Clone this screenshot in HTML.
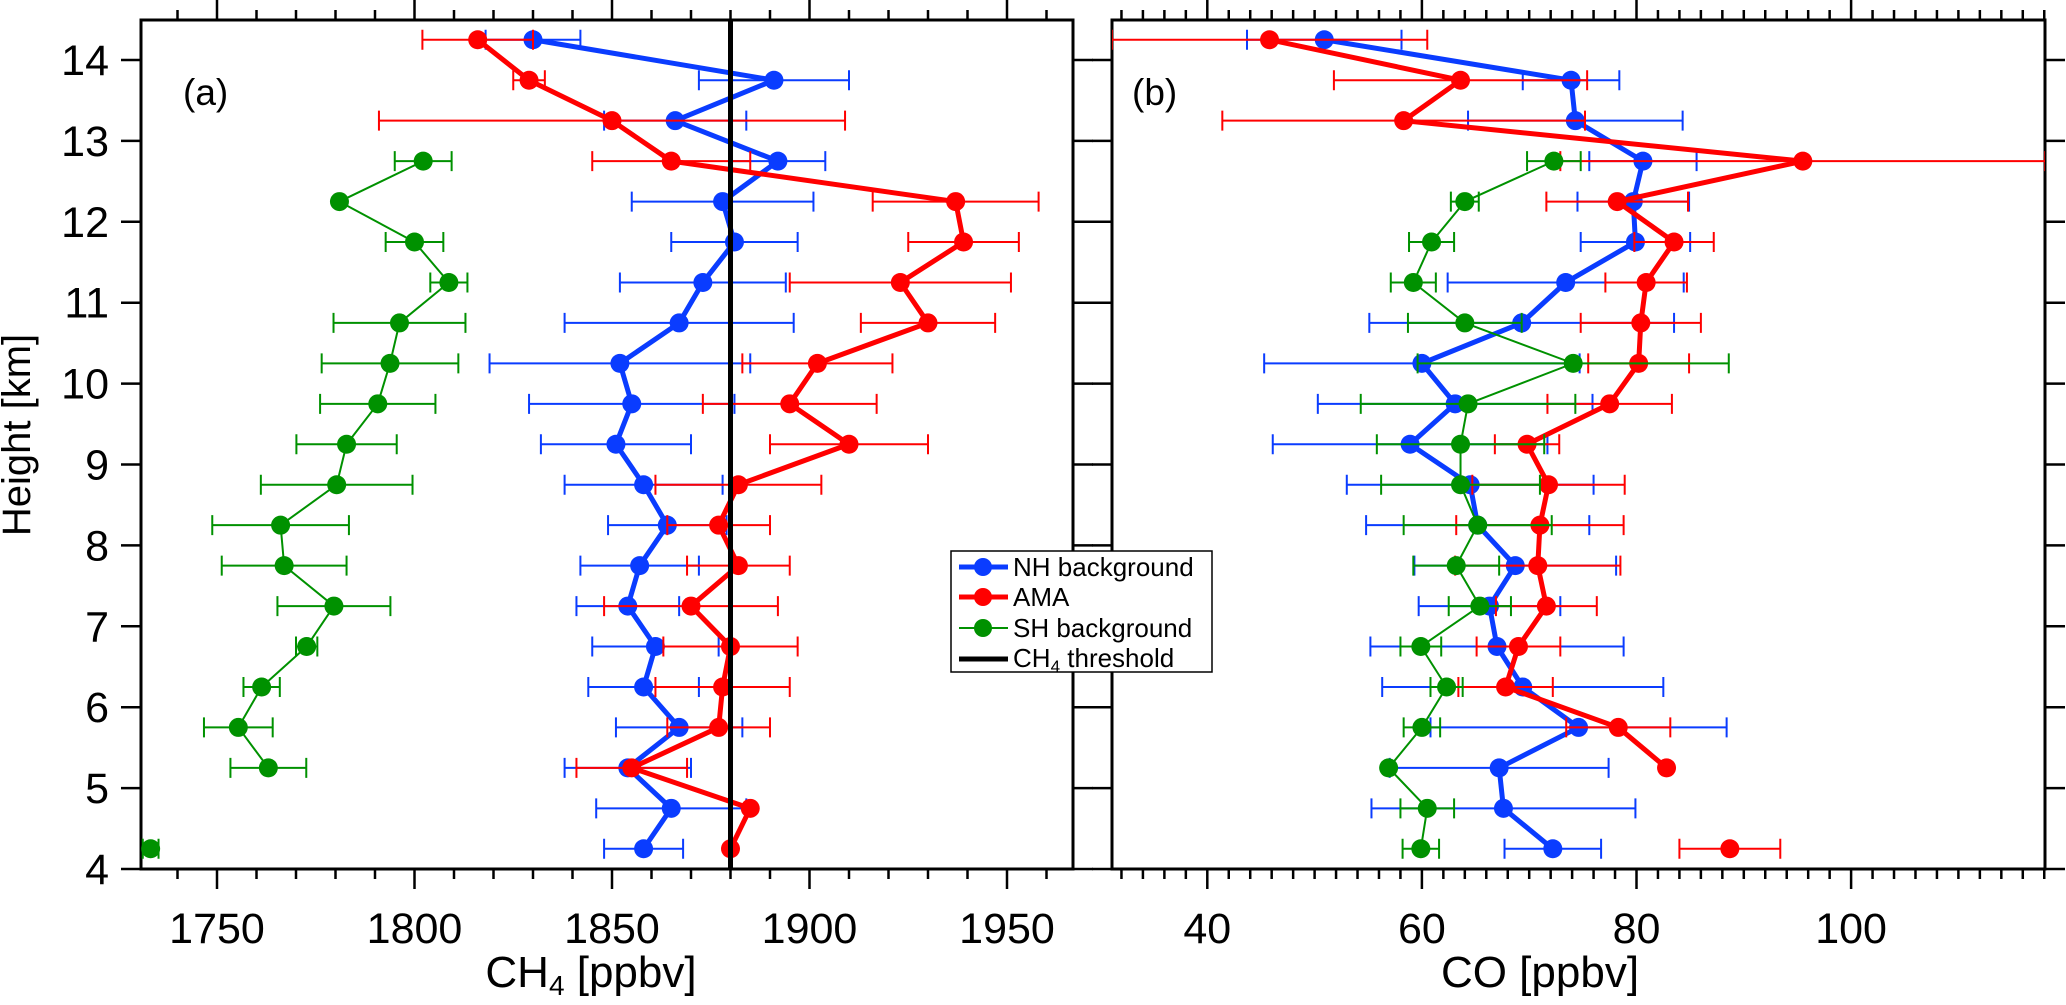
<!DOCTYPE html>
<html><head><meta charset="utf-8"><style>
html,body{margin:0;padding:0;background:#fff;}
svg text{font-family:"Liberation Sans",Arial,sans-serif;fill:#000;}
</style></head><body>
<svg id="chart" width="2066" height="1000" viewBox="0 0 2066 1000" xmlns="http://www.w3.org/2000/svg">
<defs>
<clipPath id="clipA"><rect x="141" y="20" width="932" height="849"/></clipPath>
<clipPath id="clipB"><rect x="1112" y="20" width="933" height="849"/></clipPath>
</defs>
<g id="axes"></g>
<g id="plotA" clip-path="url(#clipA)"></g>
<g id="plotB" clip-path="url(#clipB)"></g>
<text x="183" y="105" font-size="37">(a)</text>
<text x="1132" y="105" font-size="37">(b)</text>
<text transform="translate(30,435) rotate(-90)" text-anchor="middle" font-size="40">Height [km]</text>
<text x="591" y="987" text-anchor="middle" font-size="44">CH<tspan font-size="28" dy="8">4</tspan><tspan dy="-8"> [ppbv]</tspan></text>
<text x="1540" y="987" text-anchor="middle" font-size="44">CO [ppbv]</text>
<g id="legend">
<rect x="951" y="551" width="261" height="121" fill="#fff" stroke="#000" stroke-width="1.5"/>
<g><line x1="959" y1="567" x2="1008" y2="567" stroke="#0a3cff" stroke-width="5"/><circle cx="983" cy="567" r="9" fill="#0a3cff"/><text x="1013" y="576" font-size="26">NH background</text></g>
<g><line x1="959" y1="597" x2="1008" y2="597" stroke="#ff0000" stroke-width="5"/><circle cx="983" cy="597" r="9" fill="#ff0000"/><text x="1013" y="606" font-size="26">AMA</text></g>
<g><line x1="959" y1="628" x2="1008" y2="628" stroke="#009100" stroke-width="2"/><circle cx="983" cy="628" r="9" fill="#009100"/><text x="1013" y="637" font-size="26">SH background</text></g>
<g><line x1="959" y1="659" x2="1008" y2="659" stroke="#000" stroke-width="5"/><text x="1013" y="667" font-size="26">CH<tspan font-size="17" dy="5">4</tspan><tspan dy="-5"> threshold</tspan></text></g>
</g>
</svg>
<script>
const heights = [4.25,4.75,5.25,5.75,6.25,6.75,7.25,7.75,8.25,8.75,9.25,9.75,10.25,10.75,11.25,11.75,12.25,12.75,13.25,13.75,14.25];
const ch4NH = [1858,1865,1854,1867,1858,1861,1854,1857,1864,1858,1851,1855,1852,1867,1873,1881,1878,1892,1866,1891,1830];
const ch4NHErr = [10,19,16,16,14,16,13,15,15,20,19,26,33,29,21,16,23,12,18,19,12];
const ch4AMA = [1880,1885,1855,1877,1878,1880,1870,1882,1877,1882,1910,1895,1902,1930,1923,1939,1937,1865,1850,1829,1816];
const ch4AMAErr = [0,0,14,13,17,17,22,13,13,21,20,22,19,17,28,14,21,20,59,4,14];
const ch4SH = [1733.2,null,1763.0,1755.4,1761.3,1772.7,1779.6,1767.0,1766.1,1780.3,1782.8,1790.7,1793.8,1796.2,1808.7,1800.0,1781.0,1802.2,null,null,null];
const ch4SHErr = [2,0,9.6,8.7,4.6,2.7,14.3,15.8,17.3,19.2,12.7,14.6,17.3,16.7,4.7,7.3,0,7.2,0,0,0];
const coNH = [72.2,67.6,67.2,74.6,69.4,67.0,66.3,68.7,65.2,64.5,58.9,63.1,60.0,69.3,73.4,79.9,79.7,80.6,74.3,73.9,50.9];
const coNHErr = [4.5,12.3,10.2,13.8,13.1,11.8,6.6,9.4,10.4,11.5,12.8,12.8,14.7,14.2,11,5.1,5.2,5,10,4.5,7.2];
const coAMA = [88.7,null,82.8,78.3,67.8,69.0,71.6,70.8,71.0,71.8,69.8,77.5,80.2,80.4,80.9,83.5,78.2,95.5,58.3,63.6,45.8];
const coAMAErr = [4.7,0,0,4.85,4.4,3.9,4.7,7.7,7.8,7.1,3,5.8,4.7,5.6,3.8,3.7,6.6,22.6,16.9,11.8,14.7];
const coSH = [59.9,60.5,56.9,60.0,62.3,59.9,65.4,63.2,65.2,63.6,63.6,64.3,74.1,64.0,59.2,60.9,64.0,72.3,null,null,null];
const coSHErr = [1.7,2.5,0,1.7,1.5,1.9,2.9,4,6.9,7.4,7.8,10,14.5,5.3,2.1,2.1,1.3,2.5,0,0,0];
const ch4Threshold = 1880;
const ch4Ticks = [1750,1800,1850,1900,1950];
const coTicks = [40,60,80,100];
const yTicks = [4,5,6,7,8,9,10,11,12,13,14];

const NS = "http://www.w3.org/2000/svg";
const yScale = h => 60 + (14 - h) * 80.9;
const xA = v => 217 + (v - 1750) * 3.95;
const xB = v => 1207.3 + (v - 40) * 10.73;
const A = {x0:141, x1:1073, min:1730.8, max:1966.7};
const B = {x0:1112, x1:2045, min:31.2, max:118.1};
const TOP = 20, BOT = 869;

function mk(tag, attrs, parent){
  const e = document.createElementNS(NS, tag);
  for (const k in attrs) e.setAttribute(k, attrs[k]);
  parent.appendChild(e);
  return e;
}
const axes = document.getElementById('axes');

function drawFrame(P, sx, ticks, minorStep, panel, showYLabels){
  const r = mk('rect', {x:P.x0, y:TOP, width:P.x1-P.x0, height:BOT-TOP, fill:'none', stroke:'#000', 'stroke-width':3}, axes);
  
  
  const start = Math.ceil(P.min / minorStep) * minorStep;
  for (let v = start; v <= P.max + 1e-9; v += minorStep) {
    const x = sx(v);
    const major = ticks.some(t => Math.abs(t - v) < 1e-6);
    const len = major ? 20 : 10;
    const tb = mk('line', {x1:x, y1:BOT, x2:x, y2:BOT+len, stroke:'#000', 'stroke-width':2.5}, axes);
    
    
    const tt = mk('line', {x1:x, y1:TOP, x2:x, y2:TOP-len, stroke:'#000', 'stroke-width':2.5}, axes);
    
    
  }
  ticks.forEach(t => {
    const lb = mk('text', {x:sx(t), y:943, 'text-anchor':'middle', 'font-size':43}, axes);
    lb.textContent = t;
    
    
  });
  yTicks.forEach(h => {
    const y = yScale(h);
    const tl = mk('line', {x1:P.x0-20, y1:y, x2:P.x0, y2:y, stroke:'#000', 'stroke-width':2.5}, axes);
    
    
    const tr = mk('line', {x1:P.x1, y1:y, x2:P.x1+20, y2:y, stroke:'#000', 'stroke-width':2.5}, axes);
    
    
    if (showYLabels) {
      const lb = mk('text', {x:109, y:y+15, 'text-anchor':'end', 'font-size':43}, axes);
      lb.textContent = h;
      
      
    }
  });
}
drawFrame(A, xA, ch4Ticks, 10, 'panel-a', true);
drawFrame(B, xB, coTicks, 2, 'panel-b', false);

function drawSeries(g, sx, vals, errs, color, lw, name){
  const grp = mk('g', {}, g);
  
  
  vals.forEach((v, i) => {
    if (v === null || !errs[i]) return;
    const y = yScale(heights[i]);
    const x1 = sx(v - errs[i]), x2 = sx(v + errs[i]);
    const eb = mk('path', {d:`M${x1},${y}H${x2}M${x1},${y-10}V${y+10}M${x2},${y-10}V${y+10}`, stroke:color, 'stroke-width':2, fill:'none'}, grp);
    
    
  });
  let d = '', pen = false;
  vals.forEach((v, i) => {
    if (v === null) { pen = false; return; }
    d += (pen ? 'L' : 'M') + sx(v) + ',' + yScale(heights[i]);
    pen = true;
  });
  const ln = mk('path', {d:d, stroke:color, 'stroke-width':lw, fill:'none', 'stroke-linejoin':'round'}, grp);
  
  
  vals.forEach((v, i) => {
    if (v === null) return;
    const c = mk('circle', {cx:sx(v), cy:yScale(heights[i]), r:9.5, fill:color}, grp);
    
    
  });
}
const pA = document.getElementById('plotA');
const pB = document.getElementById('plotB');
const BLUE = '#0a3cff', RED = '#ff0000', GREEN = '#009100';
drawSeries(pA, xA, ch4NH, ch4NHErr, BLUE, 5, 'ch4-nh-background');
drawSeries(pA, xA, ch4AMA, ch4AMAErr, RED, 5, 'ch4-ama');
drawSeries(pA, xA, ch4SH, ch4SHErr, GREEN, 2, 'ch4-sh-background');
drawSeries(pB, xB, coNH, coNHErr, BLUE, 5, 'co-nh-background');
drawSeries(pB, xB, coAMA, coAMAErr, RED, 5, 'co-ama');
drawSeries(pB, xB, coSH, coSHErr, GREEN, 2, 'co-sh-background');
const th = mk('line', {x1:xA(ch4Threshold), y1:TOP, x2:xA(ch4Threshold), y2:BOT, stroke:'#000', 'stroke-width':5}, pA);


</script>
</body></html>
